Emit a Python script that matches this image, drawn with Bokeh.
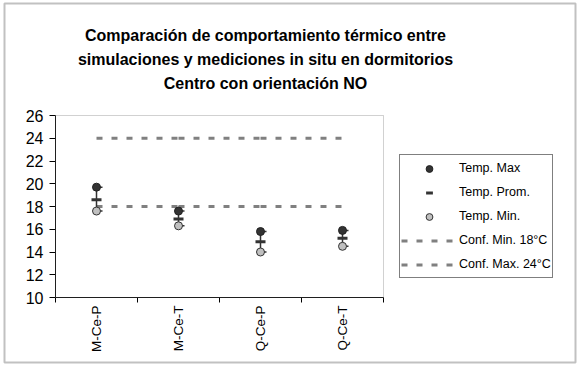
from math import pi
from bokeh.plotting import figure
from bokeh.models import (ColumnDataSource, FixedTicker, Legend, LegendItem,
                          Range1d, Label, BoxAnnotation)
from bokeh.embed import file_html
from bokeh.resources import INLINE

# Data
categories = ["M-Ce-P", "M-Ce-T", "Q-Ce-P", "Q-Ce-T"]
temp_max = [19.7, 17.6, 15.8, 15.9]
temp_prom = [18.6, 16.9, 14.9, 15.2]
temp_min = [17.6, 16.3, 14.0, 14.5]
conf_min = [18, 18, 18, 18]
conf_max = [24, 24, 24, 24]
y_ticks = [10, 12, 14, 16, 18, 20, 22, 24, 26]
title_lines = [
    "Comparación de comportamiento térmico entre",
    "simulaciones y mediciones in situ en dormitorios",
    "Centro con orientación NO",
]

FONT = "Liberation Sans"
DARK = "#333333"
W, H = 579, 365

# plot-area placement on the canvas (pixels from top-left)
AREA_L, AREA_R, AREA_T, AREA_B = 55, 383, 115, 297
X0, X1 = 0, len(categories)
Y0, Y1 = y_ticks[0], y_ticks[-1]

# the drawing frame covers the whole canvas; ranges are chosen so the
# data box [X0, X1] x [Y0, Y1] lands on the plot-area pixels
px_x = (AREA_R - AREA_L) / (X1 - X0)
px_y = (AREA_B - AREA_T) / (Y1 - Y0)
x_range = Range1d(X0 - AREA_L / px_x, X1 + (W - AREA_R) / px_x)
y_range = Range1d(Y0 - (H - AREA_B) / px_y, Y1 + AREA_T / px_y)

# each category sits in the middle of a unit-wide slot
xs = [i + 0.5 for i in range(len(categories))]

p = figure(width=W, height=H, output_backend="svg", toolbar_location=None,
           x_range=x_range, y_range=y_range,
           min_border=0, min_border_left=0, min_border_right=0,
           min_border_top=0, min_border_bottom=0)
p.grid.visible = False
p.outline_line_color = None
p.background_fill_color = "white"
p.border_fill_color = "white"

# frame around the whole chart
p.add_layout(BoxAnnotation(left=4, right=W - 4, top=H - 3, bottom=3,
                           left_units="screen", right_units="screen",
                           top_units="screen", bottom_units="screen",
                           fill_alpha=0, line_color=DARK, line_width=2))
# plot-area border
p.add_layout(BoxAnnotation(left=X0, right=X1, bottom=Y0, top=Y1,
                           fill_alpha=0, line_color="#666666", line_width=1))

# x axis: ticks on slot boundaries, labels at the slot centres
xax = p.xaxis[0]
xax.fixed_location = Y0
xax.bounds = (X0, X1)
xax.ticker = FixedTicker(ticks=xs, minor_ticks=list(range(X0, X1 + 1)))
xax.major_label_overrides = {x: c for x, c in zip(xs, categories)}
xax.major_label_orientation = pi / 2
xax.major_tick_out = 0
xax.major_tick_in = 0
xax.minor_tick_out = 5
xax.minor_tick_in = 0
xax.minor_tick_line_color = "black"
xax.axis_line_color = "black"
xax.major_label_standoff = 3
xax.major_label_text_font = FONT
xax.major_label_text_font_size = "13.5px"
xax.major_label_text_color = "black"

yax = p.yaxis[0]
yax.fixed_location = X0
yax.bounds = (Y0, Y1)
yax.ticker = FixedTicker(ticks=y_ticks)
yax.major_tick_out = 6
yax.major_tick_in = 0
yax.minor_tick_out = 0
yax.minor_tick_in = 0
yax.axis_line_color = "black"
yax.major_tick_line_color = "black"
yax.major_label_standoff = 6
yax.major_label_text_font = FONT
yax.major_label_text_font_size = "16px"
yax.major_label_text_color = "black"

# comfort limits, one dashed segment per pair of neighbouring categories
dash_kw = dict(line_color="#808080", line_width=3, line_dash="6 9")
r_cmin = p.segment(x0=xs[:-1], y0=conf_min[:-1], x1=xs[1:], y1=conf_min[1:], **dash_kw)
r_cmax = p.segment(x0=xs[:-1], y0=conf_max[:-1], x1=xs[1:], y1=conf_max[1:], **dash_kw)

# high-low lines with a short tick to the right of each end
p.segment(x0=xs, y0=temp_min, x1=xs, y1=temp_max, line_color=DARK, line_width=1.5)
p.ray(x=xs, y=temp_max, length=6, length_units="screen", angle=0,
      line_color=DARK, line_width=1.5)
p.ray(x=xs, y=temp_min, length=6, length_units="screen", angle=0,
      line_color=DARK, line_width=1.5)

src = ColumnDataSource(dict(x=xs, tmax=temp_max, tprom=temp_prom, tmin=temp_min))
r_max = p.scatter("x", "tmax", source=src, marker="circle", size=8,
                  fill_color=DARK, line_color="#222222", line_width=1)
r_prom = p.scatter("x", "tprom", source=src, marker="dash", size=10,
                   line_color=DARK, line_width=3)
r_min = p.scatter("x", "tmin", source=src, marker="circle", size=8,
                  fill_color="#c0c0c0", line_color=DARK, line_width=1)

legend = Legend(items=[
    LegendItem(label="Temp. Max", renderers=[r_max]),
    LegendItem(label="Temp. Prom.", renderers=[r_prom]),
    LegendItem(label="Temp. Min.", renderers=[r_min]),
    LegendItem(label="Conf. Min. 18°C", renderers=[r_cmin]),
    LegendItem(label="Conf. Max. 24°C", renderers=[r_cmax]),
], location=(399, H - 278))
legend.glyph_width = 56
legend.glyph_height = 17
legend.label_height = 24
legend.spacing = 0
legend.padding = 1
legend.margin = 0
legend.label_standoff = 2
legend.label_text_font = FONT
legend.label_text_font_size = "12.5px"
legend.label_text_color = "black"
legend.border_line_color = "black"
legend.border_line_width = 1
legend.background_fill_color = "white"
legend.background_fill_alpha = 1
p.add_layout(legend)

# chart title, three centred bold lines
for i, line in enumerate(title_lines):
    p.add_layout(Label(x=265, y=H - 35 - i * 24, x_units="screen", y_units="screen",
                       text=line, text_align="center", text_baseline="middle",
                       text_font=FONT, text_font_style="bold",
                       text_font_size="16px", text_color="black"))

open("out.html", "w").write(file_html(p, INLINE))
